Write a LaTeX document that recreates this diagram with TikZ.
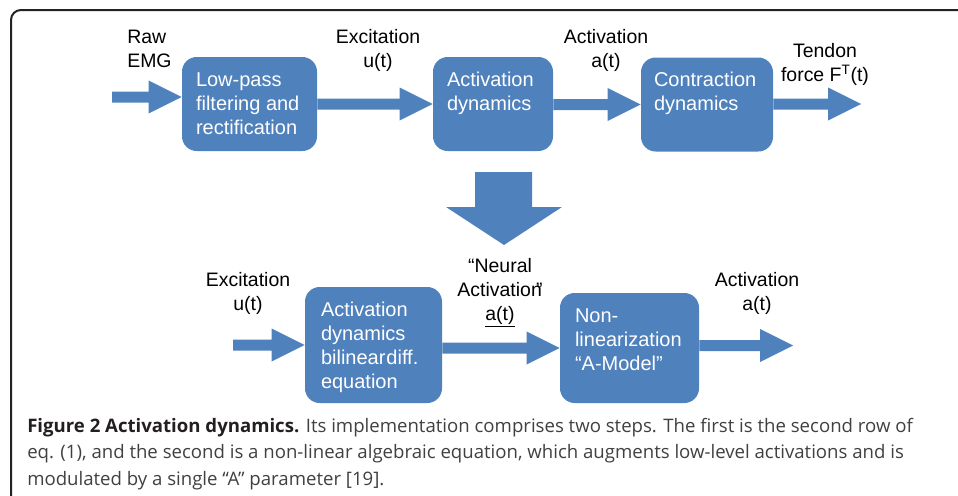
\documentclass[tikz,border=0pt]{standalone}
\usepackage{fontspec}
\setmainfont{Liberation Sans}
\newfontfamily\capfont{Open Sans}
\usetikzlibrary{calc}
\definecolor{boxblue}{HTML}{4F81BD}
\definecolor{captext}{HTML}{404040}
\definecolor{capbold}{HTML}{231F20}
\definecolor{framecol}{HTML}{222222}
\newcommand\blockarrow[2]{%
  \fill[arrfill] ($(#1|-#2)+(0,-5.5)$) -- ($(#2)+(-33,-5.5)$) -- ($(#2)+(-33,-16.5)$)
    -- (#2) -- ($(#2)+(-33,16.5)$) -- ($(#2)+(-33,5.5)$) -- ($(#1|-#2)+(0,5.5)$) -- cycle;}
\begin{document}
\begin{tikzpicture}[x=0.75pt,y=-0.75pt,
  bbox/.style={fill=boxblue, draw=none, rounded corners=11pt, inner sep=0pt},
  btext/.style={text=white, inner sep=0pt, anchor=base west, font=\fontsize{15}{18}\selectfont},
  lab/.style={text=black, inner sep=0pt, anchor=base, font=\fontsize{14.6}{18}\selectfont},
  arrfill/.style={fill=boxblue},
  captxt/.style={inner sep=0pt, anchor=base west, text=captext, font=\capfont\fontsize{13.95}{20}\selectfont}]
\useasboundingbox (0,0) rectangle (958,496);
% frame
\draw[framecol, line width=1.5pt, rounded corners=7.5pt] (11,500) -- (11,10) -- (962,10);
% top row boxes
\node[bbox, minimum width=101.25pt, minimum height=70.5pt] (b1) at (249.5,104) {};
\node[bbox, minimum width=90pt, minimum height=70.5pt] (b2) at (493,104) {};
\node[bbox, minimum width=99pt, minimum height=70.5pt] (b3) at (707,104.5) {};
\node[btext] (b1t) at ($(b1.north west)+(14,29.5)$) {\parbox[t]{100pt}{\raggedright Low-pass\\filtering and\\rectification}};
\node[btext] (b2t) at ($(b2.north west)+(14,29.5)$) {\parbox[t]{90pt}{\raggedright Activation\\dynamics}};
\node[btext] (b3t) at ($(b3.north west)+(13,29.5)$) {\parbox[t]{95pt}{\raggedright Contraction\\dynamics}};
% top row arrows
\coordinate (in1) at (112,97);
\coordinate (t1) at ($(b1.west)+(0,-7)$);
\coordinate (out1) at (861,104);
\blockarrow{in1}{t1}
\blockarrow{b1.east}{b2.west}
\blockarrow{b2.east}{b3.west}
\blockarrow{b3.east}{out1}
% top row labels
\node[lab, anchor=base west] (lraw) at (127,43.5) {\parbox[t]{50pt}{\raggedright Raw\\EMG}};
\node[lab] (lexc1) at (378,43.5) {\parbox[t]{80pt}{\centering Excitation\\u(t)}};
\node[lab] (lact1) at (606,43.5) {\parbox[t]{80pt}{\centering Activation\\a(t)}};
\node[lab] (lten) at (825,57) {\parbox[t]{80pt}{\centering Tendon\\force F\textsuperscript{T}(t)}};
% big down arrow
\fill[arrfill] (475,172) -- (532,172) -- (532,207) -- (562,207) -- (504,245) -- (446,207) -- (475,207) -- cycle;
% bottom row boxes
\node[bbox, minimum width=102.75pt, minimum height=87pt] (b4) at (373.5,345) {};
\node[bbox, minimum width=104.25pt, minimum height=82.5pt] (b5) at (629.5,348) {};
\node[btext] (b4t) at ($(b4.north west)+(16,29.5)$) {\parbox[t]{100pt}{\raggedright Activation\\dynamics\\bilinear\hspace{0.05em}diff.\\equation}};
\node[btext] (b5t) at ($(b5.north west)+(15,29.5)$) {\parbox[t]{100pt}{\raggedright Non-\\linearization\\“A-Model”}};
% bottom row arrows
\coordinate (in2) at (233,345.5);
\coordinate (out2) at (793,345.5);
\blockarrow{in2}{b4.west}
\blockarrow{b4.east}{b5.west}
\blockarrow{b5.east}{out2}
% bottom row labels
\node[lab] (lexc2) at (248,286) {\parbox[t]{80pt}{\centering Excitation\\u(t)}};
\node[lab] (lneu) at (500,272.5) {\parbox[t]{90pt}{\centering “Neural\\Activation\kern-0.3em”\\\underline{a(t)}}};
\node[lab] (lact2) at (757,286) {\parbox[t]{80pt}{\centering Activation\\a(t)}};
% caption
\node[captxt] (c1) at (27,432) {{\bfseries\color{capbold}Figure 2 Activation dynamics.} Its implementation comprises two steps. The first is the second row of};
\node[captxt] (c2) at (27,458.7) {eq. (1), and the second is a non-linear algebraic equation, which augments low-level activations and is};
\node[captxt] (c3) at (27,485.3) {modulated by a single “A” parameter [19].};
\end{tikzpicture}
\end{document}
